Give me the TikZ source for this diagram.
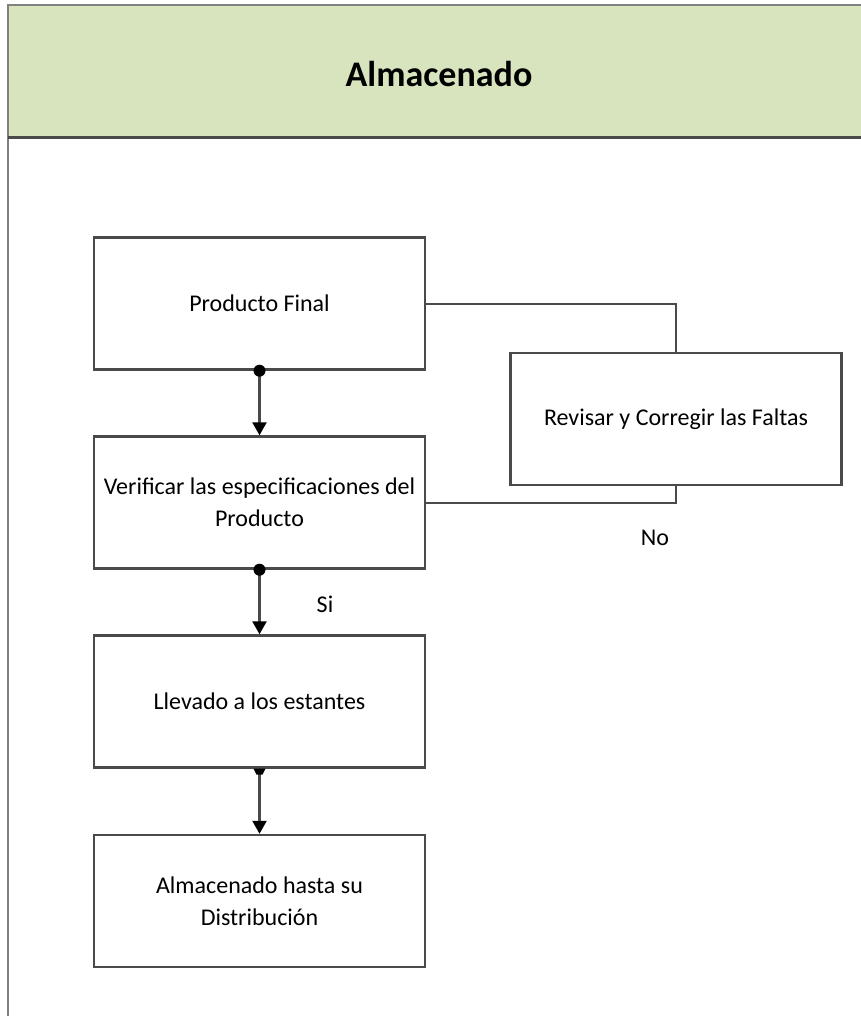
\documentclass[tikz,border=0pt]{standalone}
\usepackage{fontspec}
\setmainfont{Carlito}
\usetikzlibrary{arrows.meta}
\definecolor{headfill}{HTML}{D7E4BD}
\definecolor{edge}{HTML}{4A4A4A}
\tikzset{
  stepbox/.style={draw=edge, line width=2.4pt, fill=white, minimum width=331pt,
    minimum height=132pt, align=center, font=\fontsize{24}{29}\selectfont, inner sep=0pt},
  flow/.style={draw=edge, line width=2.4pt,
    -{Triangle[length=13pt,width=14pt,color=black]}},
  link/.style={draw=edge, line width=2.4pt},
  lbl/.style={font=\fontsize{24}{28}\selectfont, inner sep=0pt}
}
\begin{document}
\begin{tikzpicture}[x=1pt, y=-1pt]
\useasboundingbox (0,0) rectangle (860,1016);
% swimlane header and left border
\path[fill=headfill] (8,5) rectangle (870,138);
\draw[edge!70, line width=2pt] (870,5) -- (8,5) -- (8,1020);
\draw[edge, line width=3pt] (8,138) -- (870,138);
\node[font=\bfseries\fontsize{36}{40}\selectfont] (title) at (439,74) {Almacenado};

% process boxes
\node[stepbox] (pf) at (259.5,303.5) {Producto Final};
\node[stepbox] (ver) at (259.5,502.5) {Verificar las especificaciones del\\[3pt]Producto};
\node[stepbox] (lle) at (259.5,701.5) {Llevado a los estantes};
\node[stepbox] (alm) at (259.5,901) {Almacenado hasta su\\[3pt]Distribución};
\node[stepbox] (rev) at (676,419) {Revisar y Corregir las Faltas};

% main flow
\draw[flow] (pf.south) -- (ver.north);
\fill (pf.south) circle (6pt);
\draw[flow] (ver.south) -- (lle.north);
\fill (ver.south) circle (6pt);
\draw[flow] (lle.south) -- (alm.north);
\fill (lle.south) ++(-6,0) -- ++(12,0) -- ++(-3,6) -- ++(-6,0) -- cycle;

% correction loop
\coordinate (a1) at (676,304);
\coordinate (a2) at (676,503);
\draw[link] (pf.east |- a1) -- (a1) -- (rev.north);
\draw[link] (rev.south) -- (a2) -- (ver.east |- a2);

% branch labels
\node[lbl] (no) at (655,538) {No};
\node[lbl] (si) at (325,604) {Si};
\end{tikzpicture}
\end{document}
